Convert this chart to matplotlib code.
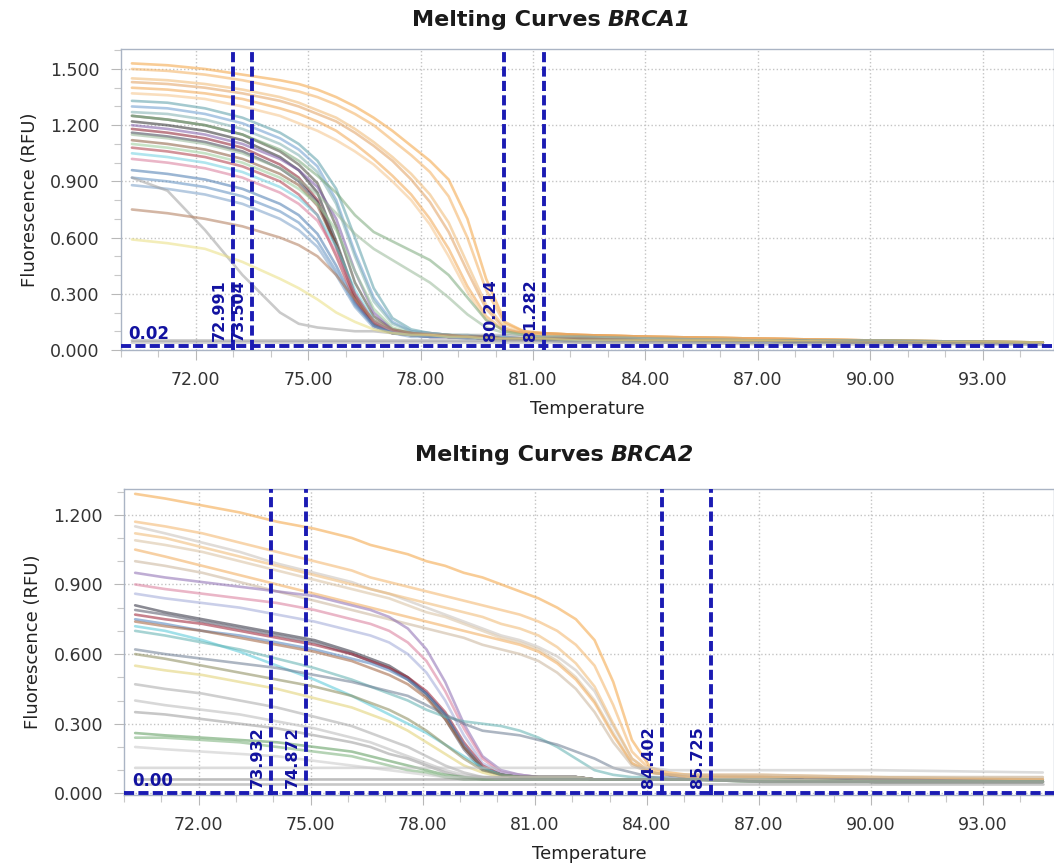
import matplotlib
matplotlib.use("Agg")
import matplotlib.pyplot as plt
from matplotlib import transforms
from matplotlib.ticker import MultipleLocator, FormatStrFormatter

plt.rcParams['font.family'] = ['DejaVu Sans']

# ---------------- BRCA1 (top) ----------------
top_temps = [70.3, 71.25, 72.25, 73.25, 74.25, 74.75, 75.25, 75.75, 76.25, 76.75, 77.25, 77.75,
             78.25, 78.75, 79.25, 79.75, 80.25, 80.75, 81.25, 82.25, 84.25, 87.25, 90.25, 94.6]

top_curves = [
    [1.53, 1.52, 1.50, 1.47, 1.44, 1.42, 1.39, 1.35, 1.30, 1.24, 1.17, 1.09, 1.01, 0.91, 0.70, 0.38, 0.15, 0.10, 0.09, 0.08, 0.07, 0.06, 0.05, 0.04],
    [1.50, 1.49, 1.47, 1.44, 1.40, 1.38, 1.35, 1.31, 1.26, 1.20, 1.12, 1.04, 0.95, 0.82, 0.60, 0.32, 0.14, 0.10, 0.09, 0.08, 0.07, 0.06, 0.05, 0.04],
    [1.45, 1.44, 1.42, 1.39, 1.35, 1.32, 1.28, 1.24, 1.18, 1.11, 1.03, 0.94, 0.83, 0.68, 0.46, 0.24, 0.12, 0.09, 0.09, 0.08, 0.07, 0.06, 0.05, 0.04],
    [1.40, 1.39, 1.37, 1.34, 1.29, 1.26, 1.22, 1.17, 1.10, 1.02, 0.93, 0.83, 0.70, 0.54, 0.34, 0.18, 0.10, 0.09, 0.08, 0.08, 0.07, 0.06, 0.05, 0.04],
    [1.37, 1.36, 1.34, 1.30, 1.25, 1.21, 1.17, 1.12, 1.06, 0.99, 0.90, 0.80, 0.67, 0.50, 0.31, 0.16, 0.10, 0.09, 0.08, 0.07, 0.07, 0.06, 0.05, 0.04],
    [1.43, 1.42, 1.40, 1.37, 1.33, 1.30, 1.26, 1.22, 1.16, 1.09, 1.01, 0.91, 0.79, 0.63, 0.42, 0.22, 0.11, 0.09, 0.09, 0.08, 0.07, 0.06, 0.05, 0.04],
    [1.33, 1.32, 1.29, 1.24, 1.16, 1.10, 1.01, 0.86, 0.60, 0.33, 0.17, 0.11, 0.09, 0.08, 0.08, 0.07, 0.07, 0.06, 0.06, 0.06, 0.05, 0.05, 0.04, 0.04],
    [1.30, 1.29, 1.26, 1.21, 1.13, 1.07, 0.98, 0.80, 0.52, 0.28, 0.15, 0.10, 0.09, 0.08, 0.07, 0.07, 0.07, 0.06, 0.06, 0.06, 0.05, 0.05, 0.04, 0.04],
    [1.27, 1.26, 1.23, 1.18, 1.10, 1.04, 0.95, 0.78, 0.50, 0.26, 0.14, 0.10, 0.09, 0.08, 0.07, 0.07, 0.06, 0.06, 0.06, 0.06, 0.05, 0.05, 0.04, 0.04],
    [1.25, 1.23, 1.20, 1.15, 1.06, 0.99, 0.89, 0.66, 0.36, 0.18, 0.11, 0.09, 0.08, 0.07, 0.07, 0.07, 0.06, 0.06, 0.06, 0.06, 0.05, 0.05, 0.04, 0.04],
    [1.22, 1.20, 1.17, 1.12, 1.03, 0.96, 0.84, 0.58, 0.30, 0.15, 0.10, 0.08, 0.08, 0.07, 0.07, 0.07, 0.06, 0.06, 0.06, 0.06, 0.05, 0.05, 0.04, 0.04],
    [1.20, 1.18, 1.15, 1.10, 1.02, 0.96, 0.87, 0.70, 0.42, 0.20, 0.11, 0.09, 0.08, 0.07, 0.07, 0.07, 0.06, 0.06, 0.06, 0.06, 0.05, 0.05, 0.04, 0.04],
    [1.18, 1.16, 1.13, 1.08, 0.99, 0.92, 0.80, 0.55, 0.27, 0.13, 0.09, 0.08, 0.07, 0.07, 0.07, 0.06, 0.06, 0.06, 0.06, 0.05, 0.05, 0.05, 0.04, 0.04],
    [1.16, 1.14, 1.11, 1.06, 0.97, 0.90, 0.79, 0.56, 0.29, 0.14, 0.10, 0.08, 0.08, 0.07, 0.07, 0.06, 0.06, 0.06, 0.06, 0.05, 0.05, 0.05, 0.04, 0.04],
    [1.12, 1.10, 1.07, 1.02, 0.94, 0.88, 0.77, 0.56, 0.29, 0.14, 0.10, 0.08, 0.08, 0.07, 0.07, 0.06, 0.06, 0.06, 0.06, 0.05, 0.05, 0.05, 0.04, 0.04],
    [1.10, 1.08, 1.05, 1.00, 0.92, 0.86, 0.78, 0.64, 0.42, 0.22, 0.12, 0.09, 0.08, 0.08, 0.07, 0.07, 0.06, 0.06, 0.06, 0.06, 0.05, 0.05, 0.04, 0.04],
    [1.08, 1.06, 1.03, 0.98, 0.90, 0.83, 0.72, 0.50, 0.26, 0.13, 0.09, 0.08, 0.07, 0.07, 0.07, 0.06, 0.06, 0.06, 0.06, 0.05, 0.05, 0.05, 0.04, 0.04],
    [1.05, 1.03, 1.00, 0.95, 0.87, 0.81, 0.72, 0.55, 0.32, 0.16, 0.10, 0.08, 0.08, 0.07, 0.07, 0.06, 0.06, 0.06, 0.06, 0.05, 0.05, 0.05, 0.04, 0.04],
    [1.02, 1.00, 0.97, 0.92, 0.84, 0.78, 0.69, 0.52, 0.30, 0.15, 0.10, 0.08, 0.08, 0.07, 0.07, 0.06, 0.06, 0.06, 0.06, 0.05, 0.05, 0.05, 0.04, 0.04],
    [0.96, 0.94, 0.91, 0.86, 0.78, 0.72, 0.62, 0.45, 0.25, 0.13, 0.09, 0.08, 0.07, 0.07, 0.07, 0.06, 0.06, 0.06, 0.06, 0.05, 0.05, 0.05, 0.04, 0.04],
    [0.92, 0.90, 0.87, 0.82, 0.74, 0.68, 0.58, 0.42, 0.24, 0.13, 0.09, 0.08, 0.07, 0.07, 0.07, 0.06, 0.06, 0.06, 0.06, 0.05, 0.05, 0.05, 0.04, 0.04],
    [0.88, 0.86, 0.83, 0.78, 0.70, 0.64, 0.55, 0.40, 0.23, 0.12, 0.09, 0.07, 0.07, 0.07, 0.06, 0.06, 0.06, 0.06, 0.05, 0.05, 0.05, 0.04, 0.04, 0.04],
    [1.25, 1.23, 1.20, 1.15, 1.07, 1.01, 0.93, 0.84, 0.72, 0.63, 0.58, 0.53, 0.48, 0.40, 0.28, 0.16, 0.10, 0.08, 0.07, 0.07, 0.06, 0.05, 0.05, 0.04],
    [1.15, 1.13, 1.10, 1.05, 0.97, 0.91, 0.83, 0.73, 0.62, 0.54, 0.48, 0.42, 0.36, 0.28, 0.19, 0.12, 0.09, 0.08, 0.07, 0.07, 0.06, 0.05, 0.05, 0.04],
    [0.92, 0.85, 0.64, 0.40, 0.20, 0.14, 0.12, 0.11, 0.10, 0.10, 0.09, 0.09, 0.09, 0.08, 0.08, 0.08, 0.08, 0.07, 0.07, 0.07, 0.06, 0.05, 0.05, 0.04],
    [0.75, 0.73, 0.70, 0.66, 0.60, 0.56, 0.50, 0.40, 0.27, 0.16, 0.11, 0.09, 0.08, 0.08, 0.07, 0.07, 0.06, 0.06, 0.06, 0.06, 0.05, 0.05, 0.04, 0.04],
    [0.59, 0.57, 0.54, 0.47, 0.38, 0.33, 0.27, 0.20, 0.15, 0.11, 0.09, 0.08, 0.08, 0.07, 0.07, 0.06, 0.06, 0.06, 0.06, 0.05, 0.05, 0.05, 0.04, 0.04],
    [0.05, 0.05, 0.05, 0.05, 0.05, 0.05, 0.05, 0.05, 0.05, 0.05, 0.05, 0.05, 0.05, 0.05, 0.05, 0.05, 0.05, 0.05, 0.05, 0.04, 0.04, 0.04, 0.04, 0.03],
    [0.04, 0.04, 0.04, 0.04, 0.04, 0.04, 0.04, 0.04, 0.04, 0.04, 0.04, 0.04, 0.04, 0.04, 0.04, 0.04, 0.04, 0.04, 0.04, 0.04, 0.04, 0.03, 0.03, 0.03],
]
top_colors = ['#f4a340', '#f3b060', '#f0b872', '#f2a650', '#f5c48a', '#e0a060',
              '#5a9ea8', '#6b9ccf', '#7fb0b0', '#4a4a3a', '#2b2b2b', '#7d5aa6',
              '#8b1a2a', '#3c3c50', '#8b5a3c', '#9acd9a', '#b03a48', '#6fd0e0',
              '#d97a9a', '#4a7ab0', '#5f8fc0', '#7aa0c8', '#7aa87a', '#98b898',
              '#a0a0a0', '#b07a5a', '#eadf80', '#8a8a8a', '#a5a5a5']
top_marks = [72.991, 73.504, 80.214, 81.282]
top_threshold = 0.02
top_threshold_label = '0.02'

# ---------------- BRCA2 (bottom) ----------------
bottom_temps = [70.3, 71.1, 72.1, 73.1, 74.1, 75.1, 76.1, 76.6, 77.1, 77.6, 78.1, 78.6, 79.1, 79.6,
                80.1, 80.6, 81.1, 81.6, 82.1, 82.6, 83.1, 83.6, 84.1, 84.6, 85.1, 87.1, 90.1, 94.6]

bottom_curves = [
    [1.29, 1.27, 1.24, 1.21, 1.17, 1.14, 1.10, 1.07, 1.05, 1.03, 1.00, 0.98, 0.95, 0.93, 0.90, 0.87, 0.84, 0.80, 0.75, 0.66, 0.48, 0.23, 0.11, 0.09, 0.08, 0.08, 0.07, 0.06],
    [1.17, 1.15, 1.12, 1.08, 1.04, 1.00, 0.96, 0.93, 0.91, 0.89, 0.87, 0.85, 0.83, 0.81, 0.79, 0.77, 0.74, 0.70, 0.64, 0.55, 0.38, 0.18, 0.10, 0.08, 0.08, 0.07, 0.07, 0.06],
    [1.15, 1.12, 1.08, 1.04, 0.99, 0.95, 0.91, 0.88, 0.86, 0.83, 0.80, 0.77, 0.74, 0.71, 0.68, 0.66, 0.63, 0.59, 0.53, 0.44, 0.29, 0.15, 0.09, 0.08, 0.08, 0.08, 0.07, 0.07],
    [1.12, 1.10, 1.06, 1.02, 0.98, 0.94, 0.90, 0.88, 0.86, 0.84, 0.82, 0.80, 0.78, 0.76, 0.73, 0.71, 0.68, 0.63, 0.56, 0.46, 0.30, 0.15, 0.09, 0.08, 0.07, 0.07, 0.06, 0.06],
    [1.09, 1.07, 1.04, 1.00, 0.96, 0.92, 0.88, 0.86, 0.84, 0.81, 0.78, 0.76, 0.73, 0.70, 0.67, 0.65, 0.62, 0.57, 0.50, 0.40, 0.26, 0.13, 0.09, 0.08, 0.08, 0.07, 0.07, 0.07],
    [1.05, 1.02, 0.98, 0.94, 0.90, 0.86, 0.82, 0.80, 0.78, 0.76, 0.74, 0.72, 0.70, 0.68, 0.66, 0.64, 0.61, 0.56, 0.49, 0.39, 0.25, 0.13, 0.09, 0.08, 0.07, 0.07, 0.06, 0.06],
    [1.00, 0.98, 0.95, 0.91, 0.87, 0.83, 0.79, 0.77, 0.75, 0.73, 0.71, 0.69, 0.67, 0.64, 0.62, 0.60, 0.57, 0.52, 0.45, 0.35, 0.22, 0.12, 0.09, 0.08, 0.07, 0.07, 0.06, 0.06],
    [0.95, 0.93, 0.91, 0.89, 0.87, 0.85, 0.81, 0.79, 0.76, 0.71, 0.62, 0.48, 0.30, 0.16, 0.10, 0.08, 0.07, 0.07, 0.07, 0.06, 0.06, 0.06, 0.06, 0.06, 0.06, 0.06, 0.05, 0.05],
    [0.90, 0.88, 0.86, 0.84, 0.82, 0.79, 0.75, 0.73, 0.70, 0.65, 0.57, 0.44, 0.28, 0.15, 0.09, 0.08, 0.07, 0.07, 0.07, 0.06, 0.06, 0.06, 0.06, 0.06, 0.06, 0.06, 0.05, 0.05],
    [0.86, 0.84, 0.82, 0.80, 0.77, 0.74, 0.70, 0.68, 0.65, 0.60, 0.52, 0.40, 0.25, 0.13, 0.09, 0.08, 0.07, 0.07, 0.07, 0.06, 0.06, 0.06, 0.06, 0.06, 0.06, 0.06, 0.05, 0.05],
    [0.81, 0.78, 0.75, 0.72, 0.69, 0.66, 0.61, 0.58, 0.55, 0.50, 0.43, 0.34, 0.20, 0.11, 0.08, 0.07, 0.07, 0.07, 0.07, 0.06, 0.06, 0.06, 0.06, 0.06, 0.06, 0.06, 0.05, 0.05],
    [0.79, 0.77, 0.74, 0.71, 0.68, 0.65, 0.60, 0.57, 0.54, 0.49, 0.42, 0.32, 0.19, 0.10, 0.08, 0.07, 0.07, 0.07, 0.07, 0.06, 0.06, 0.06, 0.06, 0.06, 0.06, 0.06, 0.05, 0.05],
    [0.77, 0.75, 0.73, 0.70, 0.67, 0.64, 0.60, 0.57, 0.54, 0.50, 0.44, 0.35, 0.22, 0.12, 0.08, 0.07, 0.07, 0.07, 0.07, 0.06, 0.06, 0.06, 0.06, 0.06, 0.06, 0.06, 0.05, 0.05],
    [0.75, 0.73, 0.70, 0.68, 0.65, 0.62, 0.58, 0.56, 0.53, 0.49, 0.43, 0.34, 0.21, 0.11, 0.08, 0.07, 0.07, 0.07, 0.07, 0.06, 0.06, 0.06, 0.06, 0.06, 0.06, 0.06, 0.05, 0.05],
    [0.74, 0.72, 0.70, 0.67, 0.64, 0.61, 0.57, 0.54, 0.51, 0.47, 0.41, 0.32, 0.20, 0.11, 0.08, 0.07, 0.07, 0.07, 0.07, 0.06, 0.06, 0.06, 0.06, 0.06, 0.06, 0.06, 0.05, 0.05],
    [0.72, 0.70, 0.66, 0.61, 0.55, 0.49, 0.42, 0.38, 0.34, 0.30, 0.26, 0.21, 0.16, 0.11, 0.08, 0.07, 0.07, 0.07, 0.07, 0.06, 0.06, 0.06, 0.06, 0.06, 0.06, 0.06, 0.05, 0.05],
    [0.70, 0.68, 0.65, 0.62, 0.58, 0.54, 0.49, 0.46, 0.43, 0.40, 0.36, 0.33, 0.31, 0.30, 0.29, 0.27, 0.24, 0.20, 0.15, 0.10, 0.08, 0.07, 0.07, 0.06, 0.06, 0.06, 0.05, 0.05],
    [0.62, 0.60, 0.58, 0.56, 0.54, 0.51, 0.48, 0.46, 0.44, 0.42, 0.38, 0.34, 0.30, 0.27, 0.26, 0.25, 0.23, 0.21, 0.18, 0.15, 0.11, 0.09, 0.07, 0.07, 0.06, 0.06, 0.06, 0.05],
    [0.60, 0.58, 0.55, 0.52, 0.49, 0.46, 0.42, 0.39, 0.36, 0.32, 0.27, 0.21, 0.15, 0.10, 0.08, 0.07, 0.07, 0.07, 0.07, 0.06, 0.06, 0.06, 0.06, 0.06, 0.06, 0.06, 0.05, 0.05],
    [0.55, 0.53, 0.51, 0.48, 0.45, 0.41, 0.37, 0.34, 0.31, 0.27, 0.22, 0.17, 0.12, 0.09, 0.07, 0.07, 0.07, 0.07, 0.07, 0.06, 0.06, 0.06, 0.06, 0.06, 0.06, 0.06, 0.05, 0.05],
    [0.47, 0.45, 0.43, 0.40, 0.37, 0.33, 0.29, 0.26, 0.23, 0.20, 0.16, 0.12, 0.09, 0.07, 0.07, 0.07, 0.07, 0.07, 0.07, 0.06, 0.06, 0.06, 0.06, 0.06, 0.06, 0.06, 0.05, 0.05],
    [0.40, 0.38, 0.36, 0.34, 0.31, 0.28, 0.24, 0.22, 0.19, 0.16, 0.13, 0.10, 0.08, 0.07, 0.07, 0.07, 0.07, 0.07, 0.07, 0.06, 0.06, 0.06, 0.06, 0.06, 0.06, 0.06, 0.05, 0.05],
    [0.35, 0.34, 0.32, 0.30, 0.28, 0.25, 0.22, 0.20, 0.17, 0.15, 0.12, 0.09, 0.07, 0.07, 0.06, 0.06, 0.06, 0.06, 0.06, 0.06, 0.06, 0.06, 0.06, 0.06, 0.06, 0.05, 0.05, 0.05],
    [0.26, 0.25, 0.24, 0.23, 0.22, 0.20, 0.18, 0.16, 0.14, 0.12, 0.10, 0.08, 0.07, 0.06, 0.06, 0.06, 0.06, 0.06, 0.06, 0.06, 0.06, 0.06, 0.06, 0.06, 0.06, 0.05, 0.05, 0.05],
    [0.24, 0.24, 0.23, 0.22, 0.20, 0.18, 0.16, 0.14, 0.12, 0.10, 0.09, 0.07, 0.06, 0.06, 0.06, 0.06, 0.06, 0.06, 0.06, 0.06, 0.06, 0.06, 0.06, 0.06, 0.06, 0.05, 0.05, 0.05],
    [0.20, 0.19, 0.18, 0.17, 0.16, 0.14, 0.12, 0.11, 0.10, 0.09, 0.08, 0.07, 0.07, 0.07, 0.06, 0.06, 0.06, 0.06, 0.06, 0.06, 0.06, 0.06, 0.06, 0.06, 0.06, 0.05, 0.05, 0.05],
    [0.11, 0.11, 0.11, 0.11, 0.11, 0.11, 0.11, 0.11, 0.11, 0.11, 0.11, 0.11, 0.11, 0.11, 0.11, 0.11, 0.11, 0.11, 0.11, 0.11, 0.11, 0.11, 0.11, 0.10, 0.10, 0.10, 0.10, 0.09],
    [0.06, 0.06, 0.06, 0.06, 0.06, 0.06, 0.06, 0.06, 0.06, 0.06, 0.06, 0.06, 0.06, 0.06, 0.06, 0.06, 0.06, 0.06, 0.06, 0.06, 0.06, 0.06, 0.06, 0.06, 0.06, 0.05, 0.05, 0.05],
    [0.04, 0.04, 0.04, 0.04, 0.04, 0.04, 0.04, 0.04, 0.04, 0.04, 0.04, 0.04, 0.04, 0.04, 0.04, 0.04, 0.04, 0.04, 0.04, 0.04, 0.04, 0.04, 0.04, 0.04, 0.04, 0.04, 0.04, 0.04],
]
bottom_colors = ['#f4a340', '#f3b468', '#c8c0b8', '#f0b872', '#d8c0a0', '#f2aa58', '#c9b49a',
                 '#8c6bb1', '#d97a9a', '#9fa8d8', '#2b2b3b', '#555566', '#9b1b30', '#4f81bd',
                 '#a0603a', '#55c8d8', '#5fb0b0', '#6a7a90', '#8a8a5a', '#e0d070', '#a8a8a8',
                 '#b8b8b8', '#9a9a9a', '#5a9a5a', '#78b078', '#c8c8c8', '#c0c0c0', '#8a8a8a', '#9a9a9a']
bottom_marks = [73.932, 74.872, 84.402, 85.725]
bottom_threshold = 0.0
bottom_threshold_label = '0.00'

mark_color = '#1b1bb3'
label_color = '#1212a0'

fig = plt.figure(figsize=(10.54, 8.65), dpi=100)
ax1 = fig.add_axes([0.1145, 0.5954, 0.8855, 0.348])
ax2 = fig.add_axes([0.1176, 0.0809, 0.8824, 0.3538])


def draw_panel(ax, temps, curves, colors, marks, thr, thr_label, ylim, ystep):
    for vals, c in zip(curves, colors):
        ax.plot(temps, vals, color=c, lw=1.9, alpha=0.55, solid_capstyle='round', zorder=2)

    ax.axhline(thr, color=mark_color, lw=2.8, ls=(0, (2.6, 1.1)), zorder=5)
    for m in marks:
        ax.axvline(m, color=mark_color, lw=2.8, ls=(0, (2.6, 1.1)), zorder=5)
        tr = transforms.offset_copy(ax.transData, fig=fig, x=-6, y=5, units='dots')
        ax.text(m, thr, f'{m:.3f}', transform=tr, rotation=90, ha='right', va='bottom',
                fontsize=11.5, fontweight='bold', color=label_color, zorder=6)
    blend = transforms.blended_transform_factory(ax.transAxes, ax.transData)
    tr = transforms.offset_copy(blend, fig=fig, x=8, y=3, units='dots')
    ax.text(0, thr, thr_label, transform=tr, ha='left', va='bottom', fontsize=12,
            fontweight='bold', color=label_color, zorder=6)

    ax.set_xlim(70, 94.9)
    ax.set_ylim(*ylim)
    ax.xaxis.set_major_locator(MultipleLocator(3))
    ax.xaxis.set_minor_locator(MultipleLocator(1))
    ax.yaxis.set_major_locator(MultipleLocator(ystep))
    ax.yaxis.set_minor_locator(MultipleLocator(0.1))
    ax.xaxis.set_major_formatter(FormatStrFormatter('%.2f'))
    ax.yaxis.set_major_formatter(FormatStrFormatter('%.3f'))
    ax.grid(True, which='major', color='#c4c4c4', ls=':', lw=1.0)
    ax.tick_params(which='major', length=7, width=0.8, color='#b8b8b8', pad=8,
                   labelsize=12.5, labelcolor='#333333')
    ax.tick_params(which='minor', length=5, width=0.8, color='#c8c8c8')
    for s in ax.spines.values():
        s.set_color('#aab4c4')
        s.set_linewidth(1.0)
    ax.set_xlabel('Temperature', fontsize=13, color='#222222', labelpad=8)
    ax.set_ylabel('Fluorescence (RFU)', fontsize=13, color='#222222', labelpad=8)


draw_panel(ax1, top_temps, top_curves, top_colors, top_marks,
           top_threshold, top_threshold_label, (0.0, 1.607), 0.3)
draw_panel(ax2, bottom_temps, bottom_curves, bottom_colors, bottom_marks,
           bottom_threshold, bottom_threshold_label, (-0.007, 1.311), 0.3)

fig.text(601 / 1054, 1 - 20 / 865, 'Melting Curves', ha='right', va='center',
         fontsize=16, fontweight='bold', color='#1a1a1a')
fig.text(608 / 1054, 1 - 20 / 865, 'BRCA1', ha='left', va='center',
         fontsize=16, fontweight='bold', style='italic', color='#1a1a1a')
fig.text(604 / 1054, 1 - 455 / 865, 'Melting Curves', ha='right', va='center',
         fontsize=16, fontweight='bold', color='#1a1a1a')
fig.text(611 / 1054, 1 - 455 / 865, 'BRCA2', ha='left', va='center',
         fontsize=16, fontweight='bold', style='italic', color='#1a1a1a')

fig.savefig('out.png', dpi=100)
